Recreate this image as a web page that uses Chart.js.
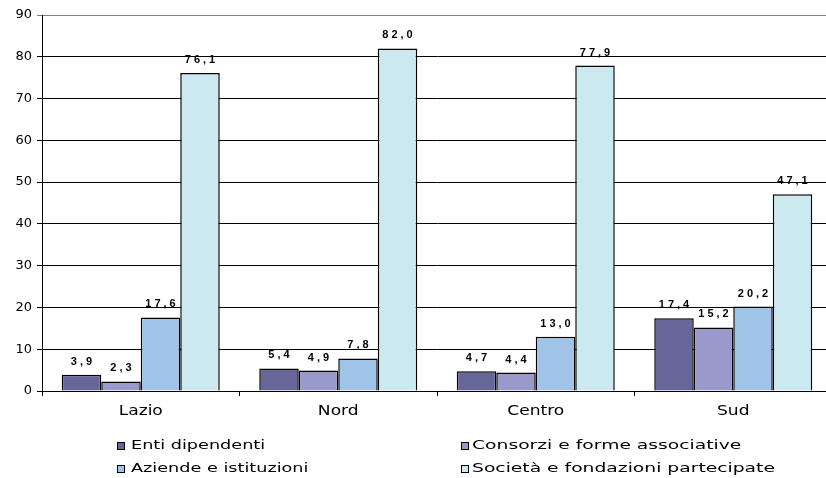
<!DOCTYPE html>
<html>
<head>
<meta charset="utf-8">
<script src="https://cdn.jsdelivr.net/npm/chart.js@4/dist/chart.umd.min.js"></script>
<style>
  html, body { margin: 0; padding: 0; background: #fff; overflow: hidden; }
  #wrap { width: 826px; height: 478px; overflow: hidden; }
  canvas { display: block; }
</style>
</head>
<body>
<div id="wrap"><canvas id="c" width="832" height="478"></canvas></div>
<script>
const categories = ['Lazio', 'Nord', 'Centro', 'Sud'];
const seriesNames = ['Enti dipendenti', 'Consorzi e forme associative', 'Aziende e istituzioni', 'Società e fondazioni partecipate'];
const entiDipendenti = [3.9, 5.4, 4.7, 17.4];
const consorzi = [2.3, 4.9, 4.4, 15.2];
const aziende = [17.6, 7.8, 13.0, 20.2];
const societa = [76.1, 82.0, 77.9, 47.1];
const yTicks = [0, 10, 20, 30, 40, 50, 60, 70, 80, 90];

const colors = ['#666699', '#9999CC', '#A0C4E8', '#CCE9F0'];
const values = [entiDipendenti, consorzi, aziende, societa];

const fmt = v => v.toFixed(1).replace('.', ',');
const SANS = '"DejaVu Sans", Verdana, sans-serif';

// text drawn with a horizontal stretch (wide Verdana-like look)
function wideText(ctx, text, x, y, sx, align) {
  ctx.save();
  ctx.translate(x, y);
  ctx.scale(sx, 1);
  ctx.textAlign = align;
  ctx.fillText(text, 0, 0);
  ctx.restore();
}

// value labels above every bar
const valueLabels = {
  id: 'valueLabels',
  afterDatasetsDraw(chart) {
    const ctx = chart.ctx;
    const sp = 3;
    ctx.save();
    ctx.font = 'bold 11px "Liberation Sans", Arial, sans-serif';
    if ('letterSpacing' in ctx) ctx.letterSpacing = sp + 'px';
    ctx.fillStyle = '#000';
    ctx.textAlign = 'center';
    ctx.textBaseline = 'alphabetic';
    chart.data.datasets.forEach((ds, i) => {
      chart.getDatasetMeta(i).data.forEach((bar, j) => {
        ctx.fillText(fmt(ds.data[j]), bar.x + sp / 2, bar.y - 10);
      });
    });
    ctx.restore();
  }
};

// category names under the axis and two-column legend
const bottomText = {
  id: 'bottomText',
  afterDraw(chart) {
    const ctx = chart.ctx;
    const xs = chart.scales.x;
    ctx.save();
    ctx.fillStyle = '#000';
    ctx.textBaseline = 'middle';
    ctx.font = '14px ' + SANS;
    chart.data.labels.forEach((lab, i) => {
      wideText(ctx, lab, xs.getPixelForTick(i), 411, 1.22, 'center');
    });

    ctx.font = '12px ' + SANS;
    const cols = [
      { sq: 117, tx: 131, sx: 1.47 },
      { sq: 461, tx: 472, sx: 1.56 }
    ];
    const rows = [446, 469];
    chart.data.datasets.forEach((ds, i) => {
      const c = cols[i % 2], y = rows[Math.floor(i / 2)];
      ctx.fillStyle = ds.backgroundColor;
      ctx.fillRect(c.sq, y - 4, 8, 8);
      ctx.strokeStyle = '#000';
      ctx.lineWidth = 1;
      ctx.strokeRect(c.sq + 0.5, y - 3.5, 7, 7);
      ctx.fillStyle = '#000';
      wideText(ctx, ds.label, c.tx, y, c.sx, 'left');
    });
    ctx.restore();
  }
};

new Chart(document.getElementById('c'), {
  type: 'bar',
  data: {
    labels: categories,
    datasets: seriesNames.map((name, i) => ({
      label: name,
      data: values[i],
      backgroundColor: colors[i],
      borderColor: '#000',
      borderWidth: 1.5,
      categoryPercentage: 0.8,
      barPercentage: 1.0
    }))
  },
  options: {
    responsive: false,
    animation: false,
    layout: { padding: { top: 15, left: 0, right: 0, bottom: 0 } },
    plugins: {
      legend: { display: false },
      tooltip: { enabled: false }
    },
    scales: {
      x: {
        offset: true,
        grid: {
          offset: true,
          drawOnChartArea: false,
          drawTicks: true,
          tickLength: 5,
          color: '#000'
        },
        border: { color: '#000', width: 1 },
        ticks: { display: false },
        afterFit(scale) { scale.height = 87; }
      },
      y: {
        min: 0,
        max: 90,
        afterBuildTicks(scale) { scale.ticks = yTicks.map(v => ({ value: v })); },
        grid: {
          color: ctx => (ctx.tick && ctx.tick.value === 90 ? '#808080' : '#000'),
          lineWidth: 1,
          tickLength: 5
        },
        border: { color: '#000', width: 1 },
        ticks: {
          color: '#000',
          padding: 5,
          font: { family: SANS, size: 13 }
        },
        afterFit(scale) { scale.width = 42; }
      }
    }
  },
  plugins: [valueLabels, bottomText]
});
</script>
</body>
</html>
